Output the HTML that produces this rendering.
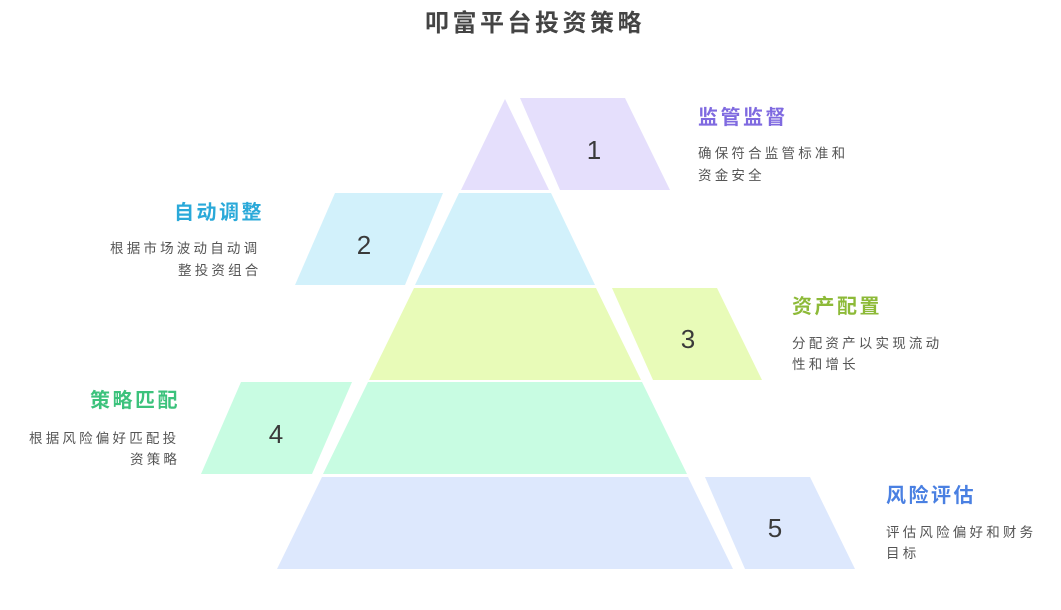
<!DOCTYPE html>
<html><head><meta charset="utf-8"><style>
body{margin:0;background:#fff;width:1061px;height:605px;overflow:hidden}
svg text{font-family:"Liberation Sans","Noto Sans CJK SC",sans-serif}
</style></head><body>
<svg width="1061" height="605" viewBox="0 0 1061 605" xmlns="http://www.w3.org/2000/svg">
<text x="535" y="31" text-anchor="middle" font-size="24" font-weight="bold" fill="#444" letter-spacing="3.5">叩富平台投资策略</text>
<polygon points="505,99 549,190 461,190" fill="#e5dffc"/>
<polygon points="459,193 551,193 595,285 415,285" fill="#d2f1fb"/>
<polygon points="414,288 596,288 641,380 369,380" fill="#e8fbb8"/>
<polygon points="368,382 642,382 687,474 323,474" fill="#c8fce2"/>
<polygon points="322,477 688,477 733,569 277,569" fill="#dde8fd"/>
<polygon points="520,98 625,98 670,190 560,190" fill="#e5dffc"/>
<polygon points="335,193 443,193 405,285 295,285" fill="#d2f1fb"/>
<polygon points="612,288 717,288 762,380 653,380" fill="#e8fbb8"/>
<polygon points="241,382 352,382 312,474 201,474" fill="#c8fce2"/>
<polygon points="705,477 810,477 855,569 745,569" fill="#dde8fd"/>
<g font-size="26" fill="#3a3a3a" text-anchor="middle">
<text x="594" y="159">1</text>
<text x="364" y="254">2</text>
<text x="688" y="348">3</text>
<text x="276" y="443">4</text>
<text x="775" y="537">5</text>
</g>
<g font-size="20" font-weight="bold" letter-spacing="2.5">
<text x="698" y="124" fill="#7f6ae0">监管监督</text>
<text x="174" y="219" fill="#2aa9d9">自动调整</text>
<text x="792" y="313" fill="#8dba38">资产配置</text>
<text x="90" y="407" fill="#3cc27c">策略匹配</text>
<text x="886" y="502" fill="#4a80e2">风险评估</text>
</g>
<g font-size="13.5" fill="#555" letter-spacing="3.2">
<text x="698" y="158">确保符合监管标准和</text>
<text x="698" y="180">资金安全</text>
<text x="110" y="253">根据市场波动自动调</text>
<text x="178" y="275">整投资组合</text>
<text x="792" y="348">分配资产以实现流动</text>
<text x="792" y="369">性和增长</text>
<text x="29" y="443">根据风险偏好匹配投</text>
<text x="130" y="464">资策略</text>
<text x="886" y="537">评估风险偏好和财务</text>
<text x="886" y="558">目标</text>
</g>
</svg>
</body></html>
